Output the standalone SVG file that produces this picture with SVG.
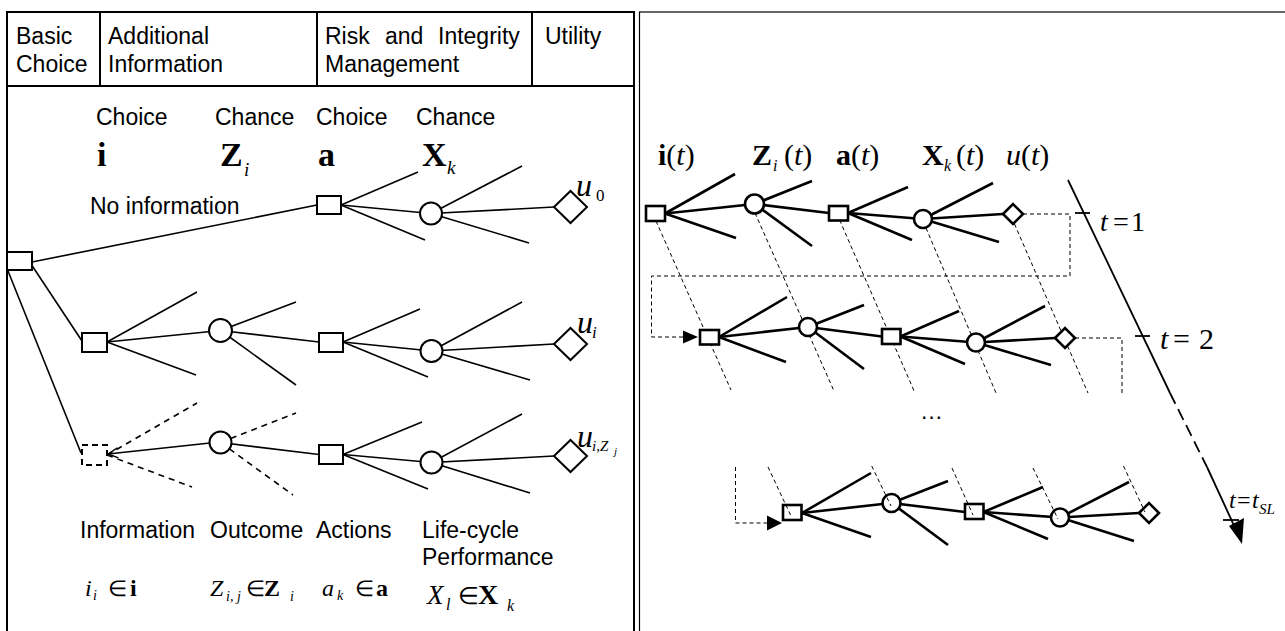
<svg xmlns="http://www.w3.org/2000/svg" width="1285" height="631" viewBox="0 0 1285 631">
<defs>
<style>
.t{font-family:"Liberation Sans",Arial,sans-serif;font-size:23px;fill:#000}
.m{font-family:"Liberation Serif","Times New Roman",serif;fill:#000}
.b{font-weight:bold}
.it{font-style:italic}
.ln{stroke:#000;stroke-width:1.6;fill:none}
.dl{stroke:#000;stroke-width:1.6;fill:none;stroke-dasharray:6 5}
.rl{stroke:#000;stroke-width:2.6;fill:none}
.dt{stroke:#000;stroke-width:1;fill:none;stroke-dasharray:4 3}
.nd{fill:#fff;stroke:#000;stroke-width:2}
.ndd{fill:#fff;stroke:#000;stroke-width:2;stroke-dasharray:6 4}
.rn{fill:#fff;stroke:#000;stroke-width:2.6}
.ar{fill:#000;stroke:none}
</style>
<marker id="open" markerUnits="userSpaceOnUse" markerWidth="14" markerHeight="12" refX="11" refY="5" orient="auto">
<path d="M1,0 L11,5 L1,10" fill="none" stroke="#000" stroke-width="1.4"/>
</marker>
</defs>
<rect width="1285" height="631" fill="#fff"/>

<g id="frames">
<rect x="7" y="12" width="627" height="640" fill="none" stroke="#000" stroke-width="2"/>
<line x1="7" y1="86" x2="634" y2="86" stroke="#000" stroke-width="2"/>
<line x1="100" y1="12" x2="100" y2="86" stroke="#000" stroke-width="2"/>
<line x1="317" y1="12" x2="317" y2="86" stroke="#000" stroke-width="2"/>
<line x1="532" y1="12" x2="532" y2="86" stroke="#000" stroke-width="2"/>
<rect x="639.5" y="12" width="700" height="640" fill="none" stroke="#000" stroke-width="1.2"/>
</g>

<g id="header">
<text class="t" x="16" y="44">Basic</text>
<text class="t" x="16" y="72">Choice</text>
<text class="t" x="108" y="44">Additional</text>
<text class="t" x="108" y="72">Information</text>
<text class="t" x="325" y="44">Risk</text>
<text class="t" x="385" y="44">and</text>
<text class="t" x="438" y="44">Integrity</text>
<text class="t" x="325" y="72">Management</text>
<text class="t" x="545" y="44">Utility</text>
</g>

<g id="connectors">
<line class="ln" x1="32" y1="262" x2="317" y2="205"/>
<line class="ln" x1="31" y1="264" x2="82" y2="341"/>
<line class="ln" x1="8" y1="271" x2="81" y2="453"/>
<line class="ln" x1="341" y1="205" x2="418" y2="172"/>
<line class="ln" x1="341" y1="205" x2="431" y2="213.5"/>
<line class="ln" x1="341" y1="205" x2="425" y2="240"/>
<line class="ln" x1="431" y1="213.5" x2="522" y2="166"/>
<line class="ln" x1="431" y1="213.5" x2="554" y2="207"/>
<line class="ln" x1="431" y1="213.5" x2="529" y2="243"/>

<line class="ln" x1="107" y1="342" x2="197" y2="292"/>
<line class="ln" x1="107" y1="342" x2="220.5" y2="330.5"/>
<line class="ln" x1="107" y1="342" x2="196" y2="375"/>
<line class="ln" x1="220.5" y1="330.5" x2="296" y2="302"/>
<line class="ln" x1="220.5" y1="330.5" x2="319" y2="342"/>
<line class="ln" x1="220.5" y1="330.5" x2="296" y2="385"/>
<line class="ln" x1="343" y1="342" x2="420" y2="309"/>
<line class="ln" x1="343" y1="342" x2="431.5" y2="351"/>
<line class="ln" x1="343" y1="342" x2="428" y2="377"/>
<line class="ln" x1="431.5" y1="351" x2="522" y2="302"/>
<line class="ln" x1="431.5" y1="351" x2="554" y2="344"/>
<line class="ln" x1="431.5" y1="351" x2="530" y2="380"/>

<line class="dl" x1="107" y1="455" x2="197" y2="403"/>
<line class="dl" x1="107" y1="455" x2="192" y2="487"/>
<line class="ln" x1="210" y1="443" x2="108" y2="454" marker-end="url(#open)"/>
<line class="dl" x1="220.5" y1="442.5" x2="296" y2="413"/>
<line class="dl" x1="220.5" y1="442.5" x2="293" y2="495"/>
<line class="ln" x1="220.5" y1="442.5" x2="319" y2="454.5"/>
<line class="ln" x1="343" y1="454.5" x2="422" y2="422"/>
<line class="ln" x1="343" y1="454.5" x2="431.5" y2="462.5"/>
<line class="ln" x1="343" y1="454.5" x2="428" y2="489"/>
<line class="ln" x1="431.5" y1="462.5" x2="522" y2="414"/>
<line class="ln" x1="431.5" y1="462.5" x2="554" y2="456"/>
<line class="ln" x1="431.5" y1="462.5" x2="530" y2="493"/>

<line class="dt" x1="656" y1="221" x2="731" y2="390"/>
<line class="dt" x1="755" y1="213" x2="834" y2="391"/>
<line class="dt" x1="839.6" y1="220" x2="915" y2="393"/>
<line class="dt" x1="926" y1="228" x2="996" y2="393"/>
<line class="dt" x1="1014.5" y1="224" x2="1088" y2="393"/>
<polyline class="dt" points="1023,214 1070,214 1070,276 651.5,276 651.5,337 684,337"/>
<polygon class="ar" points="683,330.5 698,337 683,343.5"/>
<polyline class="dt" points="1075,338 1122,338 1122,393"/>
<polyline class="dt" points="735.5,467 735.5,523 768,523"/>
<polygon class="ar" points="767,515.5 782,523 767,530.5"/>

<line class="rl" x1="665" y1="213.5" x2="735" y2="174"/>
<line class="rl" x1="665" y1="213.5" x2="754.5" y2="204"/>
<line class="rl" x1="665" y1="213.5" x2="736" y2="238"/>
<line class="rl" x1="754.5" y1="204" x2="812" y2="181"/>
<line class="rl" x1="754.5" y1="204" x2="829" y2="213"/>
<line class="rl" x1="754.5" y1="204" x2="812" y2="246"/>
<line class="rl" x1="848" y1="213" x2="908" y2="187"/>
<line class="rl" x1="848" y1="213" x2="923" y2="219"/>
<line class="rl" x1="848" y1="213" x2="912" y2="240"/>
<line class="rl" x1="923" y1="219" x2="993" y2="183"/>
<line class="rl" x1="923" y1="219" x2="1003" y2="214"/>
<line class="rl" x1="923" y1="219" x2="999" y2="242"/>
<line class="rl" x1="719" y1="337" x2="787" y2="297"/>
<line class="rl" x1="719" y1="337" x2="808" y2="327"/>
<line class="rl" x1="719" y1="337" x2="786" y2="362"/>
<line class="rl" x1="808" y1="327" x2="864" y2="305"/>
<line class="rl" x1="808" y1="327" x2="882" y2="336.5"/>
<line class="rl" x1="808" y1="327" x2="864" y2="369"/>
<line class="rl" x1="900.5" y1="336.5" x2="959" y2="311"/>
<line class="rl" x1="900.5" y1="336.5" x2="976" y2="342.5"/>
<line class="rl" x1="900.5" y1="336.5" x2="965" y2="364"/>
<line class="rl" x1="976" y1="342.5" x2="1045" y2="306"/>
<line class="rl" x1="976" y1="342.5" x2="1055" y2="338"/>
<line class="rl" x1="976" y1="342.5" x2="1051" y2="365"/>
<line class="rl" x1="802" y1="513" x2="871" y2="473"/>
<line class="rl" x1="802" y1="513" x2="891.5" y2="503"/>
<line class="rl" x1="802" y1="513" x2="871" y2="537"/>
<line class="rl" x1="891.5" y1="503" x2="948" y2="481"/>
<line class="rl" x1="891.5" y1="503" x2="965" y2="512"/>
<line class="rl" x1="891.5" y1="503" x2="948" y2="545"/>
<line class="rl" x1="983.5" y1="512" x2="1043" y2="487"/>
<line class="rl" x1="983.5" y1="512" x2="1060" y2="517.5"/>
<line class="rl" x1="983.5" y1="512" x2="1048" y2="539"/>
<line class="rl" x1="1060" y1="517.5" x2="1129" y2="482"/>
<line class="rl" x1="1060" y1="517.5" x2="1139" y2="513"/>
<line class="rl" x1="1060" y1="517.5" x2="1134" y2="541"/>

<line x1="1068" y1="180" x2="1170" y2="393" stroke="#000" stroke-width="1.8"/>
<line x1="1170" y1="393" x2="1207" y2="467" stroke="#000" stroke-width="1.8" stroke-dasharray="12 6"/>
<line x1="1207" y1="467" x2="1237" y2="532" stroke="#000" stroke-width="1.8"/>
<polygon class="ar" points="1242,544 1229,526 1244,518"/>
<line x1="1075" y1="213" x2="1090" y2="213" stroke="#000" stroke-width="1.8"/>
<line x1="1135" y1="336" x2="1150" y2="336" stroke="#000" stroke-width="1.8"/>
<line x1="1223" y1="520" x2="1239" y2="520" stroke="#000" stroke-width="1.8"/>
</g>

<g id="root"><rect class="nd" x="7" y="252" width="25" height="18"/></g>
<g id="a0"><rect class="nd" x="317" y="196" width="24" height="18"/></g>
<g id="x0"><circle class="nd" cx="431" cy="213.5" r="11"/></g>
<g id="u0"><polygon class="nd" points="554,207 570.5,191 587,207 570.5,223"/></g>
<g id="info"><rect class="nd" x="82" y="333" width="25" height="19"/></g>
<g id="z1"><circle class="nd" cx="220.5" cy="330.5" r="11.5"/></g>
<g id="a1"><rect class="nd" x="319" y="333" width="24" height="19"/></g>
<g id="x1"><circle class="nd" cx="431.5" cy="351" r="11"/></g>
<g id="ui"><polygon class="nd" points="554,344 570.5,328 587,344 570.5,360"/></g>
<g id="info2"><rect class="ndd" x="82" y="445" width="25" height="20"/></g>
<g id="z2"><circle class="nd" cx="220.5" cy="442.5" r="11"/></g>
<g id="a2"><rect class="nd" x="319" y="445" width="24" height="19"/></g>
<g id="x2"><circle class="nd" cx="431.5" cy="462.5" r="11"/></g>
<g id="uiz"><polygon class="nd" points="554,456 570.5,440 587,456 570.5,472"/></g>

<g id="r1s1"><rect class="rn" x="646" y="206" width="19" height="15"/></g>
<g id="r1c1"><circle class="rn" cx="754.5" cy="204" r="9.5"/></g>
<g id="r1s2"><rect class="rn" x="829" y="206" width="19" height="14.5"/></g>
<g id="r1c2"><circle class="rn" cx="923" cy="219" r="9"/></g>
<g id="r1d"><polygon class="rn" points="1003,214 1013,204 1023,214 1013,224"/></g>
<g id="r2s1"><rect class="rn" x="700" y="330" width="19" height="14.5"/></g>
<g id="r2c1"><circle class="rn" cx="808" cy="327" r="9"/></g>
<g id="r2s2"><rect class="rn" x="882" y="329" width="18.5" height="15"/></g>
<g id="r2c2"><circle class="rn" cx="976" cy="342.5" r="9"/></g>
<g id="r2d"><polygon class="rn" points="1055,338 1065,328 1075,338 1065,348"/></g>
<g id="r3s1"><rect class="rn" x="783" y="505" width="18.5" height="15"/></g>
<g id="r3c1"><circle class="rn" cx="891.5" cy="503" r="9"/></g>
<g id="r3s2"><rect class="rn" x="965" y="504" width="18.5" height="15"/></g>
<g id="r3c2"><circle class="rn" cx="1060" cy="517.5" r="9"/></g>
<g id="r3d"><polygon class="rn" points="1139,513 1149,503 1159,513 1149,523"/></g>

<g id="connectors-row3">
<line class="dt" x1="768" y1="467" x2="791" y2="516"/>
<line class="dt" x1="871.7" y1="466" x2="891" y2="506"/>
<line class="dt" x1="952" y1="468" x2="973" y2="515"/>
<line class="dt" x1="1033" y1="468" x2="1058" y2="519"/>
<line class="dt" x1="1123.5" y1="466" x2="1145" y2="512"/>
</g>

<g id="left-labels">
<text class="t" x="96" y="125">Choice</text>
<text class="t" x="215" y="125">Chance</text>
<text class="t" x="316" y="125">Choice</text>
<text class="t" x="416" y="125">Chance</text>
<text class="m b" x="97" y="166" font-size="34">i</text>
<text class="m b" x="220" y="166" font-size="34">Z</text>
<text class="m it" x="244" y="176" font-size="19">i</text>
<text class="m b" x="318" y="166" font-size="34">a</text>
<text class="m b" x="422" y="166" font-size="34">X</text>
<text class="m it" x="447" y="174" font-size="19">k</text>
<text class="t" x="90" y="214">No information</text>
<text class="m it" x="576" y="196" font-size="32">u</text>
<text class="m" x="596" y="201" font-size="17">0</text>
<text class="m it" x="577" y="333" font-size="32">u</text>
<text class="m it" x="592" y="338" font-size="17">i</text>
<text class="m it" x="577" y="447" font-size="32">u</text>
<text class="m it" x="592" y="451" font-size="15">i,Z</text>
<text class="m it" x="614" y="455" font-size="11">j</text>
<text class="t" x="80" y="538">Information</text>
<text class="t" x="210" y="538">Outcome</text>
<text class="t" x="316" y="538">Actions</text>
<text class="t" x="422" y="538">Life-cycle</text>
<text class="t" x="422" y="565">Performance</text>
<text class="m it" x="85" y="596" font-size="24">i</text>
<text class="m it" x="93" y="600" font-size="14">i</text>
<text class="m" x="108" y="596" font-size="22">∈</text>
<text class="m b" x="130" y="596" font-size="24">i</text>
<text class="m it" x="210" y="596" font-size="24">Z</text>
<text class="m it" x="226" y="601" font-size="14">i, j</text>
<text class="m" x="246" y="596" font-size="22">∈</text>
<text class="m b" x="264" y="596" font-size="24">Z</text>
<text class="m it" x="290" y="601" font-size="14">i</text>
<text class="m it" x="322" y="596" font-size="24">a</text>
<text class="m it" x="337" y="600" font-size="14">k</text>
<text class="m" x="355" y="596" font-size="22">∈</text>
<text class="m b" x="376" y="596" font-size="24">a</text>
<text class="m it" x="427" y="604" font-size="27">X</text>
<text class="m it" x="446" y="610" font-size="16">l</text>
<text class="m" x="458" y="604" font-size="24">∈</text>
<text class="m b" x="478" y="604" font-size="28">X</text>
<text class="m it" x="507" y="611" font-size="16">k</text>
</g>

<g id="right-labels">
<text class="m" x="658" y="165" font-size="30"><tspan class="b">i</tspan>(<tspan class="it">t</tspan>)</text>
<text class="m b" x="752" y="165" font-size="30">Z</text>
<text class="m it" x="773" y="171" font-size="16">i</text>
<text class="m" x="784" y="165" font-size="30">(<tspan class="it">t</tspan>)</text>
<text class="m" x="836" y="165" font-size="30"><tspan class="b">a</tspan>(<tspan class="it">t</tspan>)</text>
<text class="m b" x="922" y="165" font-size="30">X</text>
<text class="m it" x="944" y="171" font-size="16">k</text>
<text class="m" x="956" y="165" font-size="30">(<tspan class="it">t</tspan>)</text>
<text class="m" x="1006" y="165" font-size="30"><tspan class="it">u</tspan>(<tspan class="it">t</tspan>)</text>
<text class="m" x="1100" y="231" font-size="28"><tspan class="it">t</tspan><tspan x="1113">=</tspan><tspan x="1131">1</tspan></text>
<text class="m" x="1160" y="349" font-size="30"><tspan class="it">t</tspan><tspan x="1173">=</tspan><tspan x="1199">2</tspan></text>
<text class="m" x="1229" y="508" font-size="24"><tspan class="it">t</tspan><tspan x="1237">=</tspan><tspan class="it" x="1252">t</tspan></text>
<text class="m it" x="1259" y="514" font-size="15">SL</text>
<text class="t" x="920" y="419" font-size="20">…</text>
</g>
</svg>
